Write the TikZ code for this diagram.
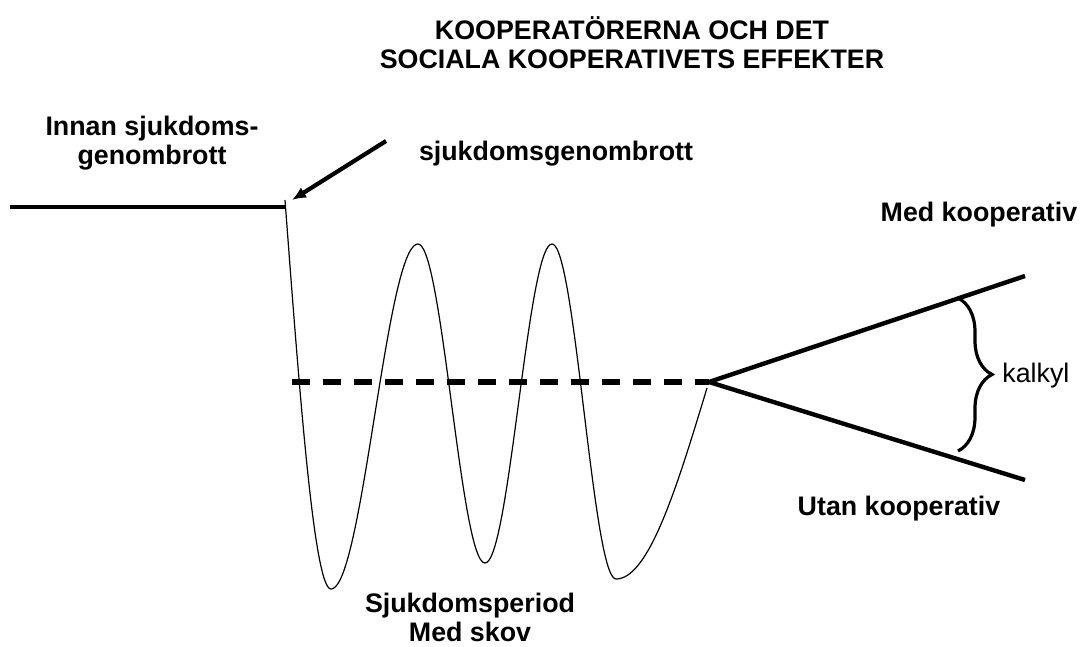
\documentclass[tikz,border=0pt]{standalone}
\usepackage{fontspec}
\setmainfont{Liberation Sans}
\usepackage{tikz}
\usetikzlibrary{arrows.meta,positioning,calc,decorations.pathreplacing}

\begin{document}
\begin{tikzpicture}[x=0.5pt,y=-0.5pt,
  lbl/.style={font=\fontsize{13.4}{14.5}\selectfont\bfseries,align=center,inner sep=0pt},
  thk/.style={line width=2.2pt,line join=round}]
  \useasboundingbox (0,0) rectangle (1082,647);
  \node[lbl] (title) at (632,43) {KOOPERATÖRERNA OCH DET\\SOCIALA KOOPERATIVETS EFFEKTER}; % 表題
  \node[lbl] (innan) at (152,143) {Innan sjukdoms-\\genombrott}; % 発病前
  \node[lbl] (genbr) at (556,154) {sjukdomsgenombrott};
  \node[lbl] (medk) at (979,215) {Med kooperativ};
  \node[lbl] (utank) at (899,509) {Utan kooperativ};
  \node[lbl] (period) at (470,617) {Sjukdomsperiod\\Med skov}; % 病期
  \coordinate (pre) at (10,207);
  \coordinate (brk) at (285,207);
  \coordinate (arrS) at (386,141);
  \coordinate (arrE) at (292,200);
  \coordinate (dashS) at (292,382);
  \coordinate (apex) at (709,382);
  \coordinate (upEnd) at (1025,276);
  \coordinate (loEnd) at (1025,480);
  \draw[thk] (pre) -- (brk); % 発病前の水平線
  \draw[line width=2.1pt,-{Latex[length=7pt,width=6pt]}] (arrS) -- (arrE); % 発病時点を指す矢印
  \draw[line width=0.6pt,domain=0:1,samples=40,smooth,variable=\t]
    plot ({285+46*\t},{200+389*sin(90*\t)}); % 最初の落ち込み
  \foreach \xa/\ya/\xb/\yb in {331/589/418/244,418/244/485/563,485/563/552/244,552/244/616/579}
    \draw[line width=0.6pt,domain=0:1,samples=40,smooth,variable=\t]
      plot ({\xa+(\xb-\xa)*\t},{\ya+(\yb-\ya)*(1-cos(180*\t))/2}); % 再燃の波
  \draw[line width=0.6pt,domain=0:1,samples=40,smooth,variable=\t]
    plot ({616+91*\t},{579-191*(1-cos(90*\t))}); % 最後の立ち上がり
  \draw[line width=2.6pt,dash pattern=on 9pt off 6.5pt] (dashS) -- (apex); % 平均の点線
  \draw[thk] (upEnd) -- (apex) -- (loEnd); % 二つの経路
  \draw[line width=1.6pt,decorate,decoration={brace,amplitude=17pt}] (958,298) -- (958,451);
  \node[font=\fontsize{13.4}{14.5}\selectfont,inner sep=0pt,anchor=west] (kalkyl) at (1002,376) {kalkyl};
\end{tikzpicture}
\end{document}
